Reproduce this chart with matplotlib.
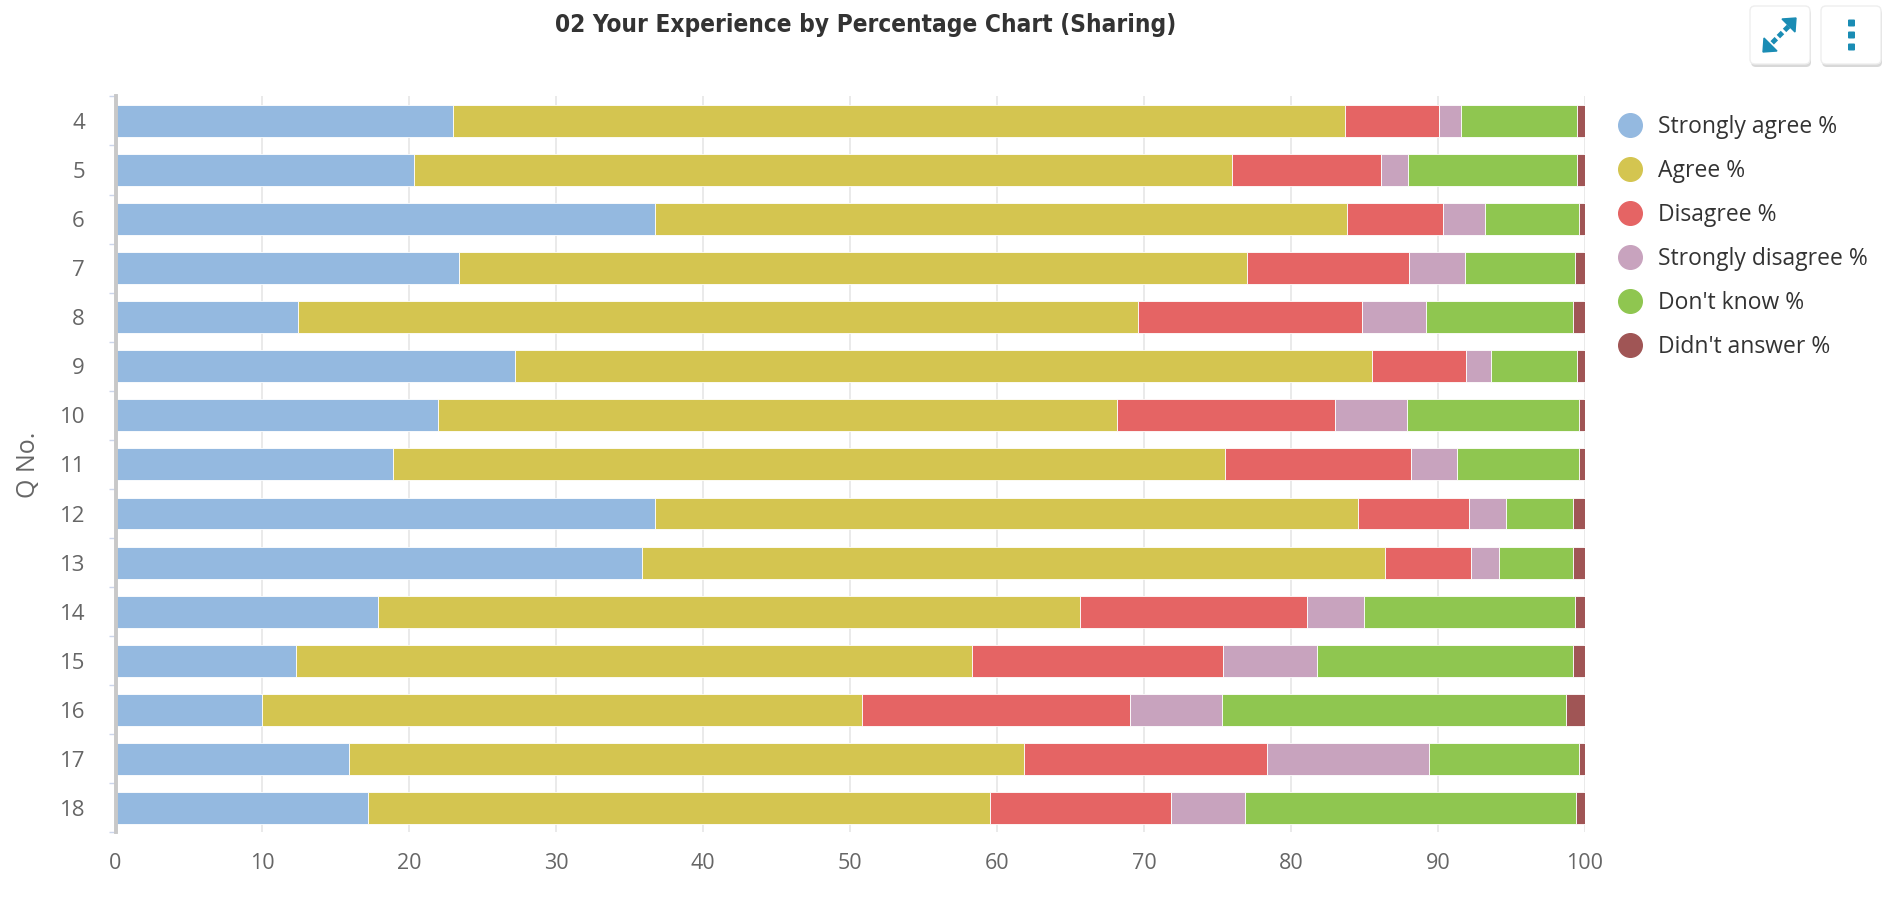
import numpy as np
import matplotlib.pyplot as plt
from matplotlib.lines import Line2D
from matplotlib.patches import FancyBboxPatch, Polygon

plt.rcParams['font.family'] = ['Open Sans', 'DejaVu Sans']

questions = ['4', '5', '6', '7', '8', '9', '10', '11', '12', '13', '14', '15', '16', '17', '18']
series_names = ['Strongly agree %', 'Agree %', 'Disagree %', 'Strongly disagree %',
                "Don't know %", "Didn't answer %"]

strongly_agree = [23.0, 20.3, 36.75, 23.4, 12.4, 27.2, 21.95, 18.9, 36.7, 35.8, 17.85, 12.25, 9.95, 15.9, 17.15]
agree = [60.65, 55.7, 47.05, 53.6, 57.2, 58.35, 46.2, 56.6, 47.9, 50.6, 47.8, 46.05, 40.85, 45.95, 42.4]
disagree = [6.4, 10.1, 6.55, 11.05, 15.25, 6.4, 14.85, 12.7, 7.5, 5.85, 15.45, 17.05, 18.25, 16.5, 12.3]
strongly_disagree = [1.5, 1.9, 2.85, 3.8, 4.35, 1.65, 4.9, 3.1, 2.55, 1.9, 3.9, 6.4, 6.25, 11.05, 5.05]
dont_know = [7.9, 11.45, 6.4, 7.5, 10.0, 5.85, 11.7, 8.3, 4.55, 5.05, 14.35, 17.45, 23.45, 10.2, 22.5]
didnt_answer = [0.55, 0.55, 0.4, 0.65, 0.8, 0.55, 0.4, 0.4, 0.8, 0.8, 0.65, 0.8, 1.25, 0.4, 0.6]

colors = ['#94B9E0', '#D4C550', '#E56464', '#C8A3BE', '#8FC650', '#A05555']

data = [strongly_agree, agree, disagree, strongly_disagree, dont_know, didnt_answer]

fig = plt.figure(figsize=(18.85, 9.11), dpi=100)
ax = fig.add_axes([0.0613, 0.0862, 0.7794, 0.808])

y = np.arange(len(questions))
left = np.zeros(len(questions))
for vals, name, c in zip(data, series_names, colors):
    vals = np.array(vals)
    ax.barh(y, vals, left=left, height=0.65, color=c, edgecolor='white',
            linewidth=0.6, label=name, zorder=2)
    left += vals

ax.set_xlim(0, 100)
ax.set_ylim(len(questions) - 0.5, -0.5)
ax.set_xticks(np.arange(0, 101, 10))
ax.set_yticks(y)
ax.set_yticklabels(questions)
ax.set_yticks(np.arange(-0.5, len(questions), 1), minor=True)

ax.grid(axis='x', color='#e6e6e6', linewidth=1.2, zorder=0)
ax.set_axisbelow(True)
for s in ['top', 'right', 'bottom']:
    ax.spines[s].set_visible(False)
ax.spines['left'].set_color('#c8c8c8')
ax.spines['left'].set_linewidth(2.8)

ax.tick_params(axis='x', length=0, pad=15, labelsize=15.5, labelcolor='#666666')
ax.tick_params(axis='y', which='major', length=0, pad=22, labelsize=16, labelcolor='#666666')
ax.tick_params(axis='y', which='minor', length=5, width=1, color='#ccd6eb')

ax.set_ylabel('Q No.', fontsize=18, color='#666666')
ax.yaxis.set_label_coords(-0.051, 0.5)

fig.text(0.459, 0.973, '02 Your Experience by Percentage Chart (Sharing)',
         ha='center', va='center', fontsize=17.5, fontweight='bold', color='#333333',
         family=['DejaVu Sans'], fontstretch='condensed')

handles = [Line2D([], [], marker='o', linestyle='none', markersize=17,
                  markerfacecolor=c, markeredgecolor=c) for c in colors]
fig.legend(handles, series_names, loc='upper left', bbox_to_anchor=(0.8475, 0.896),
           frameon=False, fontsize=16.5, labelspacing=0.87, handletextpad=0.74,
           handlelength=1.0, labelcolor='#333333')

# toolbar buttons, top right
tr = fig.dpi_scale_trans
for x0 in [17.50, 18.21]:
    fig.patches.append(FancyBboxPatch((x0 + 0.01, 8.44), 0.60, 0.58,
                                      boxstyle='round,pad=0,rounding_size=0.05',
                                      transform=tr, facecolor='#d8d8d8', edgecolor='none'))
    fig.patches.append(FancyBboxPatch((x0, 8.47), 0.60, 0.58,
                                      boxstyle='round,pad=0,rounding_size=0.05',
                                      transform=tr, facecolor='white', edgecolor='#eeeeee'))
icon = '#1a8cb4'
fig.add_artist(plt.Line2D([17.66, 17.94], [8.62, 8.90], transform=tr, color=icon,
                          linewidth=3.5, linestyle=(0, (1.2, 0.6))))
fig.patches.append(Polygon([[17.96, 8.93], [17.82, 8.92], [17.95, 8.79]], closed=True,
                           transform=tr, facecolor=icon, edgecolor=icon))
fig.patches.append(Polygon([[17.63, 8.59], [17.77, 8.60], [17.64, 8.73]], closed=True,
                           transform=tr, facecolor=icon, edgecolor=icon))
for yy in [8.64, 8.76, 8.88]:
    fig.patches.append(FancyBboxPatch((18.48, yy - 0.035), 0.07, 0.07, transform=tr,
                                      boxstyle='round,pad=0,rounding_size=0.01',
                                      facecolor=icon, edgecolor='none'))

fig.savefig('out.png', dpi=100)
